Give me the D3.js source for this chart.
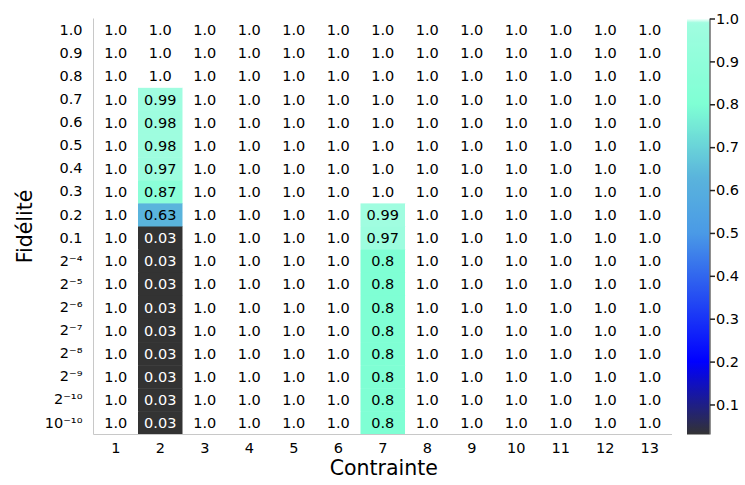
<!DOCTYPE html>
<html><head><meta charset="utf-8">
<script src="https://cdn.jsdelivr.net/npm/d3@7"></script>
<style>body{margin:0;background:#fff}svg{display:block;font-family:"DejaVu Sans",sans-serif}</style>
</head><body><svg id="c" width="745" height="485"></svg>
<script>
const columns = ["1","2","3","4","5","6","7","8","9","10","11","12","13"];
const rowLabels = ["1.0","0.9","0.8","0.7","0.6","0.5","0.4","0.3","0.2","0.1","2⁻⁴","2⁻⁵","2⁻⁶","2⁻⁷","2⁻⁸","2⁻⁹","2⁻¹⁰","10⁻¹⁰"];
// values for column 2 and column 7 (top to bottom); all other columns are 1.0
const col2Values = [1.0,1.0,1.0,0.99,0.98,0.98,0.97,0.87,0.63,0.03,0.03,0.03,0.03,0.03,0.03,0.03,0.03,0.03];
const col7Values = [1.0,1.0,1.0,1.0,1.0,1.0,1.0,1.0,0.99,0.97,0.8,0.8,0.8,0.8,0.8,0.8,0.8,0.8];
const otherValue = 1.0;
const colorbarTicks = [0.1,0.2,0.3,0.4,0.5,0.6,0.7,0.8,0.9,1.0];
const colorStops = [0.03, 0.2, 0.5, 0.63, 0.8, 0.99, 1.0];
const colorRange = ["#333333", "#0000ff", "#4a9ae6", "#5ab4dc", "#7fffd4", "#a0fde0", "#ffffff"];

const cells = [];
rowLabels.forEach((r, i) => columns.forEach((c, j) => {
  const v = c === "2" ? col2Values[i] : c === "7" ? col7Values[i] : otherValue;
  cells.push({r, c, v});
}));

const svg = d3.select("#c");
const L = 93.5, R = 672, T = 18.5, B = 434.5;
const FS = 14.5;
const x = d3.scaleBand().domain(columns).range([L, R]);
const y = d3.scaleBand().domain(rowLabels).range([T, B]);
const color = d3.scaleLinear().domain(colorStops).range(colorRange).clamp(true);
const fmt = v => Number.isInteger(v) ? v.toFixed(1) : String(v);

svg.append("g").selectAll("rect").data(cells).join("rect")
  .attr("x", d => x(d.c)).attr("y", d => y(d.r))
  .attr("width", x.bandwidth() + 0.5).attr("height", y.bandwidth() + 0.5)
  .attr("fill", d => color(d.v));

svg.append("g").selectAll("text").data(cells).join("text")
  .attr("x", d => x(d.c) + x.bandwidth() / 2)
  .attr("y", d => y(d.r) + y.bandwidth() / 2)
  .attr("dy", "0.36em").attr("text-anchor", "middle")
  .attr("font-size", FS)
  .attr("fill", d => d.v < 0.3 ? "#fff" : "#000")
  .text(d => fmt(d.v));

// spines
svg.append("line").attr("x1", L).attr("x2", L).attr("y1", T).attr("y2", B).attr("stroke", "#c8c8c8");
svg.append("line").attr("x1", L).attr("x2", R).attr("y1", B).attr("y2", B).attr("stroke", "#c8c8c8");

// axes labels
const xAxis = svg.append("g").attr("transform", `translate(0,${B})`)
  .call(d3.axisBottom(x).tickSize(0).tickPadding(8));
xAxis.select(".domain").remove();
xAxis.selectAll("text").attr("font-size", FS).attr("font-family", "DejaVu Sans").attr("fill", "#000");
const yAxis = svg.append("g").attr("transform", `translate(${L},0)`)
  .call(d3.axisLeft(y).tickSize(0).tickPadding(11));
yAxis.select(".domain").remove();
yAxis.selectAll("text").attr("font-size", FS).attr("font-family", "DejaVu Sans").attr("fill", "#000");

svg.append("text").attr("x", (L + R) / 2 + 1).attr("y", 475).attr("text-anchor", "middle")
  .attr("font-size", 20.5).text("Contrainte");
svg.append("text").attr("transform", `translate(32,${(T + B) / 2}) rotate(-90)`)
  .attr("text-anchor", "middle").attr("font-size", 20.5).text("Fidélité");

// colorbar
const cbX = 687, cbW = 22.5;
const cb = d3.scaleLinear().domain([0.03, 1.0]).range([B, T]);
const grad = svg.append("defs").append("linearGradient").attr("id", "cbg")
  .attr("x1", 0).attr("y1", 1).attr("x2", 0).attr("y2", 0);
d3.range(0, 201).forEach(k => {
  const v = 0.03 + (1.0 - 0.03) * k / 200;
  grad.append("stop").attr("offset", k / 200).attr("stop-color", color(v));
});
svg.append("rect").attr("x", cbX).attr("y", T).attr("width", cbW).attr("height", B - T).attr("fill", "url(#cbg)");
const cAxis = svg.append("g").attr("transform", `translate(${cbX + cbW + 0.5},0)`)
  .call(d3.axisRight(cb).tickValues(colorbarTicks).tickFormat(d3.format(".1f")).tickSize(5).tickPadding(1));
cAxis.select(".domain").attr("d", `M0,${T}V${B}`).attr("stroke", "#222");
cAxis.selectAll("line").attr("stroke", "#222").attr("stroke-width", 1.5);
cAxis.selectAll("text").attr("font-size", FS).attr("font-family", "DejaVu Sans").attr("fill", "#000");
</script></body></html>
